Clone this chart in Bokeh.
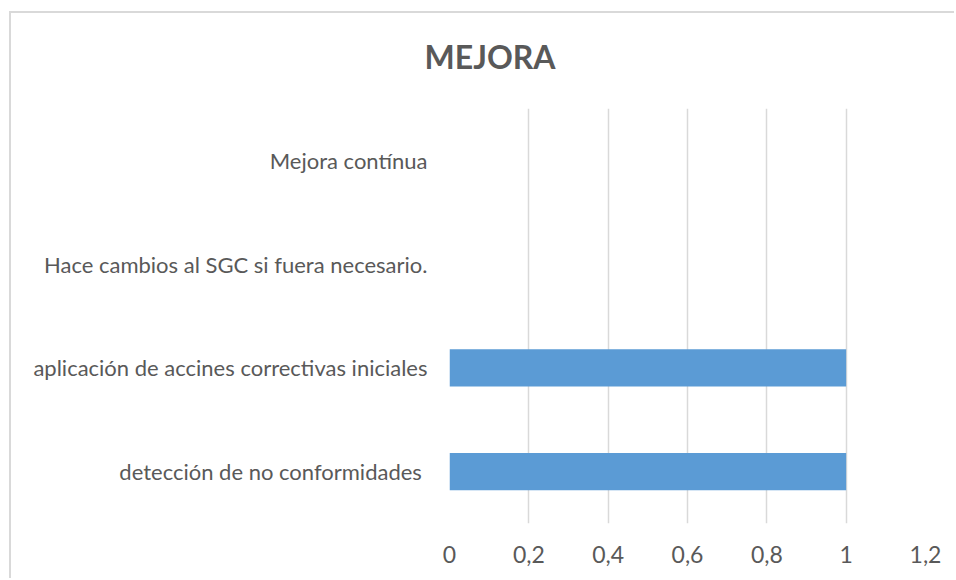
from bokeh.plotting import figure
from bokeh.models import FixedTicker, FactorRange, Range1d, ColumnDataSource
from bokeh.embed import file_html
from bokeh.resources import INLINE

categories = [
    "detección de no conformidades ",
    "aplicación de accines correctivas iniciales",
    "Hace cambios al SGC si fuera necesario.",
    "Mejora contínua",
]
values = [1, 1, 0, 0]
tick_values = [0, 0.2, 0.4, 0.6, 0.8, 1, 1.2]
tick_labels = ["0", "0,2", "0,4", "0,6", "0,8", "1", "1,2"]
title_text = "MEJORA"

FONT = "Lato"
TEXT_COLOR = "#595959"
GRID_COLOR = "#d9d9d9"
BAR_COLOR = "#5b9bd5"

source = ColumnDataSource(data=dict(cat=categories, val=values))

p = figure(
    width=954, height=578,
    y_range=FactorRange(factors=categories, range_padding=0),
    x_range=Range1d(0, 1.2),
    output_backend="svg", toolbar_location=None,
    frame_width=476, frame_height=415,
    min_border_left=449, min_border_right=29,
    min_border_top=108, min_border_bottom=55,
    title=title_text,
)
# chart-area border (top and left edges) drawn behind the transparent canvas
p.styles = {
    "margin": "0px",
    "background-color": "white",
    "background-image": "linear-gradient(#d9d9d9, #d9d9d9), linear-gradient(#d9d9d9, #d9d9d9)",
    "background-position": "9px 11px, 9px 11px",
    "background-size": "100% 2px, 2px 100%",
    "background-repeat": "no-repeat",
}

p.hbar(y="cat", right="val", height=0.357, left=0, source=source,
       fill_color=BAR_COLOR, line_color=None)

p.title.align = "left"
p.title.offset = -25
p.title.text_font = FONT
p.title.text_font_style = "bold"
p.title.text_font_size = "32px"
p.title.text_color = TEXT_COLOR
p.title.standoff = 66

p.outline_line_color = None
p.ygrid.grid_line_color = None
p.xgrid.grid_line_color = GRID_COLOR
p.xgrid.grid_line_width = 1.5
p.xgrid.ticker = FixedTicker(ticks=tick_values)

p.xaxis.ticker = FixedTicker(ticks=tick_values)
p.xaxis.major_label_overrides = {t: l for t, l in zip(tick_values, tick_labels)}
p.xaxis.axis_line_color = None
p.xaxis.major_tick_line_color = None
p.xaxis.minor_tick_line_color = None
p.xaxis.major_tick_out = 0
p.xaxis.major_label_standoff = 22
p.xaxis.major_label_text_font = FONT
p.xaxis.major_label_text_font_size = "23px"
p.xaxis.major_label_text_color = TEXT_COLOR

p.yaxis.axis_line_color = None
p.yaxis.major_tick_line_color = None
p.yaxis.minor_tick_line_color = None
p.yaxis.major_tick_out = 0
p.yaxis.major_label_standoff = 22
p.yaxis.major_label_text_font = FONT
p.yaxis.major_label_text_font_size = "22px"
p.yaxis.major_label_text_color = TEXT_COLOR

p.background_fill_color = "white"
p.border_fill_color = None

open("out.html", "w").write(file_html(p, INLINE))
